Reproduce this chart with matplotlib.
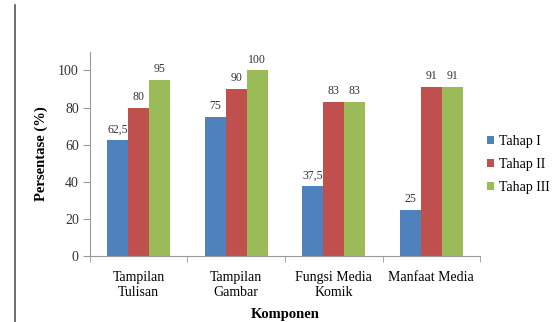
import matplotlib
matplotlib.use('Agg')
import matplotlib.pyplot as plt
import numpy as np

categories = ['Tampilan\nTulisan', 'Tampilan\nGambar', 'Fungsi Media\nKomik', 'Manfaat Media']
series = ['Tahap I', 'Tahap II', 'Tahap III']
tahap1 = [62.5, 75, 37.5, 25]
tahap2 = [80, 90, 83, 91]
tahap3 = [95, 100, 83, 91]
colors = ['#4F81BD', '#C0504D', '#9BBB59']

plt.rcParams['font.family'] = ['Liberation Serif', 'DejaVu Serif']

fig = plt.figure(figsize=(5.55, 3.22), dpi=100)
ax = fig.add_axes([0.162, 0.205, 0.703, 0.634])

x = np.arange(len(categories))
w = 0.216
for i, (name, vals) in enumerate(zip(series, [tahap1, tahap2, tahap3])):
    pos = x + (i - 1) * w
    ax.bar(pos, vals, width=w, color=colors[i], label=name)
    for px, v in zip(pos, vals):
        txt = f'{v:g}'.replace('.', ',')
        ax.text(px, v + 2.5, txt, ha='center', va='bottom', fontsize=8.5, color='#333333')

ax.set_xlim(-0.5, len(categories) - 0.5)
ax.set_ylim(0, 110)
ax.set_yticks(range(0, 101, 20))
ax.set_xticks(x)
ax.set_xticklabels(categories, fontsize=10, linespacing=1.15)
ax.set_xticks(np.arange(-0.5, len(categories)), minor=True)
ax.tick_params(axis='x', which='major', length=0, pad=11)
ax.tick_params(axis='x', which='minor', length=4, color='#999999')
ax.tick_params(axis='y', labelsize=10, length=5, color='#999999', colors='#333333', pad=3)
for s in ['top', 'right']:
    ax.spines[s].set_visible(False)
for s in ['left', 'bottom']:
    ax.spines[s].set_color('#999999')

ax.set_ylabel('Persentase (%)', fontsize=10.5, fontweight='bold', labelpad=7)
ax.set_xlabel('Komponen', fontsize=10.5, fontweight='bold', labelpad=7)

ax.legend(loc='center left', bbox_to_anchor=(0.985, 0.45), frameon=False, fontsize=10,
          handlelength=0.5, handleheight=0.5, handletextpad=0.35, labelspacing=0.72)

# page margin line at the left
fig.add_artist(plt.Line2D([0.027, 0.027], [0.0, 0.985], color='#555555', lw=1.2))

fig.savefig('out.png', dpi=100)
plt.close()
